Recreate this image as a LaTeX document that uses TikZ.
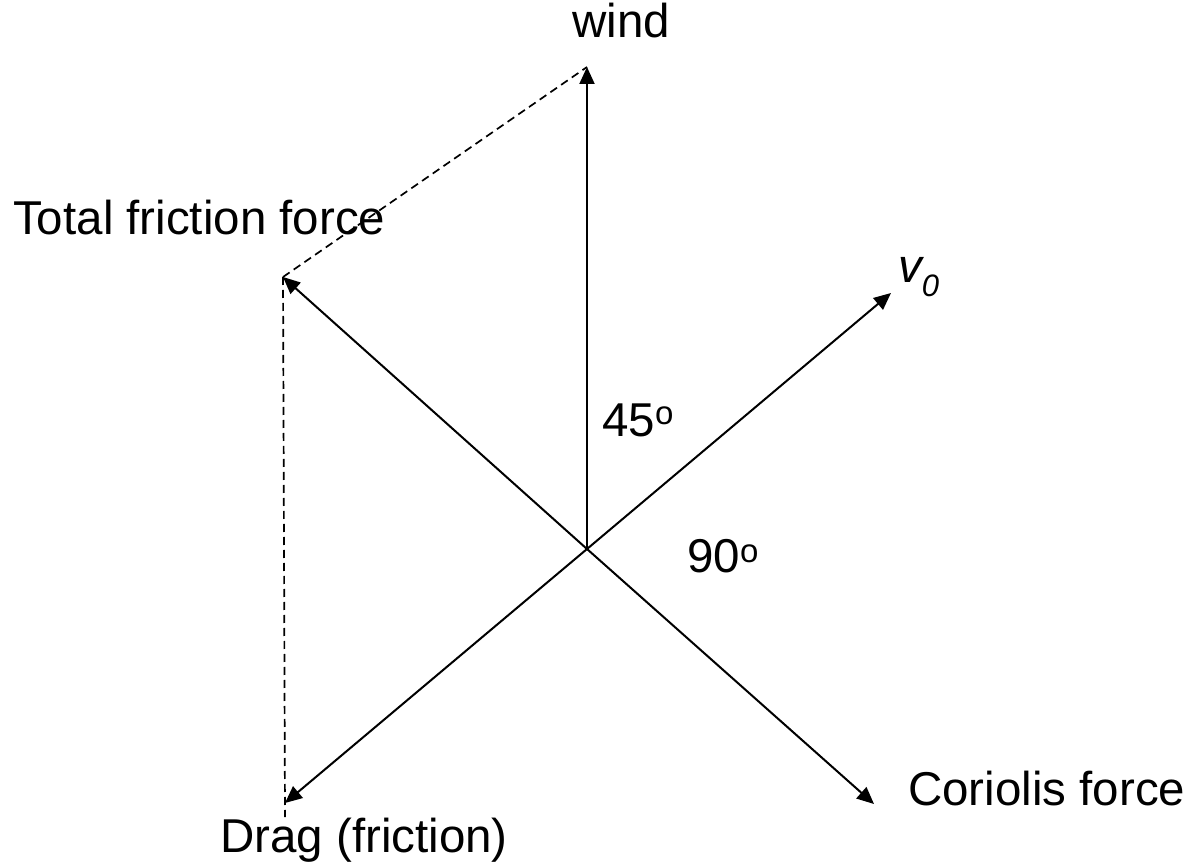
\documentclass[tikz,border=0pt]{standalone}
\usepackage{fontspec}
\setmainfont{Liberation Sans}
\usetikzlibrary{arrows.meta}
\tikzset{
  vec/.style={line width=2pt,-{Triangle[length=17pt,width=15pt]}},
  helper/.style={line width=1.7pt,dash pattern=on 8pt off 5pt},
  lbl/.style={anchor=base west,inner sep=0pt,font=\fontsize{47.5}{52}\selectfont}
}
\begin{document}
\begin{tikzpicture}[x=1pt,y=-1pt]
\useasboundingbox (0,0) rectangle (1192,866);
\coordinate (O) at (587,549);
\coordinate (W) at (587,67);
\coordinate (V) at (891,293);
\coordinate (F) at (283,277);
\coordinate (D) at (285,803);
\coordinate (C) at (874,804);
\draw[vec] (O) -- (W);
\draw[vec] (O) -- (V);
\draw[vec] (O) -- (F);
\draw[vec] (O) -- (D);
\draw[vec] (O) -- (C);
\draw[helper] (F) -- (W);
\draw[helper] (F) -- ([yshift=-14pt]D);
\node[lbl] (wl) at (572,38) {wind};
\node[lbl] (fl) at (13,235) {Total friction force};
\node[lbl] (vl) at (898,283) {\itshape v\raisebox{-14pt}{\fontsize{31}{31}\selectfont 0}};
\node[lbl] (a45) at (602,437) {45\raisebox{12pt}{\fontsize{33}{33}\selectfont o}};
\node[lbl] (a90) at (687,572) {90\raisebox{10pt}{\fontsize{33}{33}\selectfont o}};
\node[lbl] (cl) at (908,805) {Coriolis force};
\node[lbl] (dl) at (220,852) {Drag (friction)};
\end{tikzpicture}
\end{document}
